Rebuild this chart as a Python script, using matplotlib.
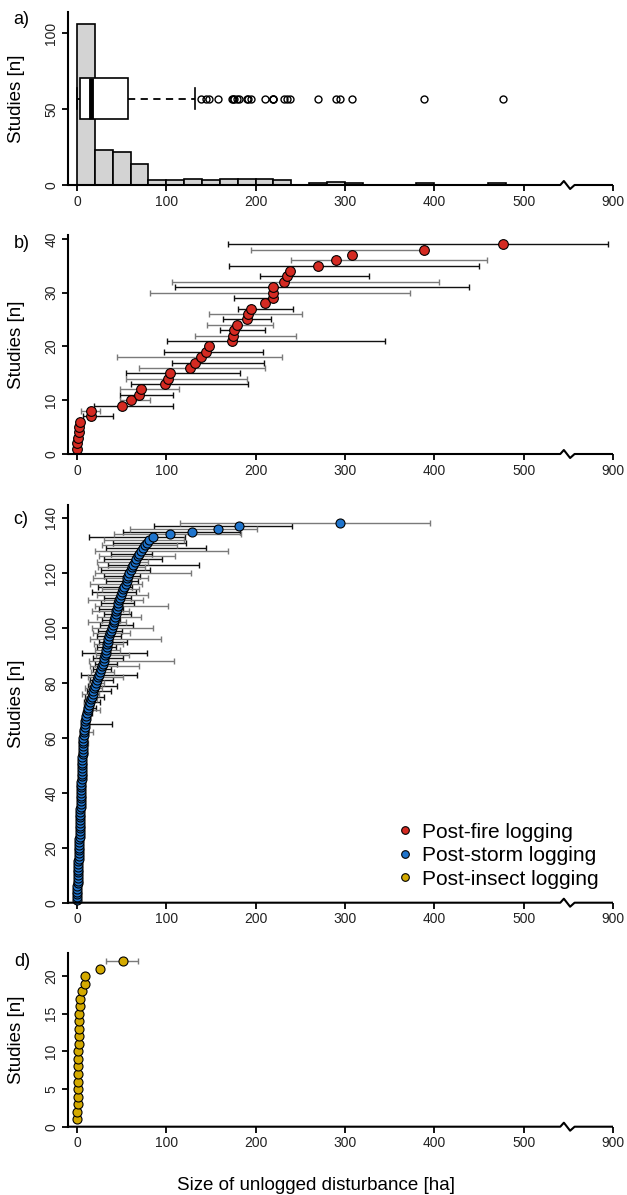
import numpy as np
import matplotlib
matplotlib.use("Agg")
import matplotlib.pyplot as plt
from matplotlib.lines import Line2D
import matplotlib.transforms as mtransforms

plt.rcParams['font.family'] = ['Liberation Sans', 'DejaVu Sans']

# ---------------- data ----------------
fire_size = [0.3, 0.5, 1.0, 2.0, 2.5, 3.0, 15.5, 15.8, 50, 61, 69, 72, 98.9, 101.5, 104,
             126, 132, 138.5, 144.4, 148, 173, 175, 175.5, 179.5, 190.6, 191, 194.6, 210,
             219, 219, 219.3, 232, 235, 238, 270, 290, 308, 389, 477]
fire_err_rank = [7, 8, 9, 10, 11, 12, 13, 14, 15, 16, 17, 18, 19, 21, 22, 23, 24, 25, 26, 27,
                 29, 30, 31, 32, 33, 35, 36, 38, 39]
fire_err_low = [6.7, 5.0, 18.7, 47.7, 47.7, 47.7, 60.0, 54.4, 54.4, 70.0, 106.7, 44.8, 98.0,
                101.0, 132.0, 160.0, 145.4, 164.0, 147.7, 180.0, 176.0, 81.5, 109.4, 106.4,
                204.5, 170.0, 240.0, 195.0, 168.7]
fire_err_high = [40.6, 26.0, 107.5, 81.4, 107.5, 113.8, 191.5, 190.8, 183.0, 211.0, 209.5, 229.6,
                 208.0, 344.6, 245.0, 210.0, 220.0, 217.0, 252.0, 242.0, 222.0, 372.8, 439.0,
                 405.0, 326.8, 449.5, 459.0, 389.0, 860.0]

storm_size = [0.1, 0.2, 0.3, 0.4, 0.5, 0.6, 0.7, 0.8, 0.9, 1.0,
              1.1, 1.2, 1.3, 1.5, 1.6, 1.8, 2.0, 2.1, 2.3, 2.5,
              2.6, 2.7, 2.8, 2.9, 3.0, 3.1, 3.2, 3.3, 3.4, 3.5,
              3.6, 3.7, 3.8, 3.9, 4.0, 4.1, 4.2, 4.3, 4.4, 4.5,
              4.7, 4.8, 5.0, 5.1, 5.2, 5.3, 5.4, 5.5, 5.6, 5.7,
              5.9, 6.0, 6.2, 6.3, 6.5, 6.6, 6.8, 6.9, 7.0, 7.2,
              7.5, 7.8, 8.1, 8.5, 9.0, 9.5, 10.0, 10.5, 11.2, 12.0,
              12.8, 13.5, 14.5, 15.5, 16.5, 17.5, 18.5, 19.5,
              20.5, 21.5, 22.5, 23.5, 25.0, 26.0, 27.0, 28.0, 29.0, 29.8, 30.5, 31.2, 32.0,
              32.6, 33.2, 33.8, 34.5, 35.2, 36.0, 37.0, 38.0, 39.2,
              40.2, 41.0, 42.0, 42.8, 43.5, 44.2, 45.0, 45.7, 46.5, 47.3, 48.0, 49.0, 50.0,
              51.5, 53.0, 54.5, 55.5, 56.5, 57.5, 58.5,
              60.5, 61.5, 63.0, 64.5, 66.0, 68.0, 70.0, 72.0, 74.0, 76.0, 78.5,
              81.0, 85.0, 104.0, 128.5, 157.6, 181.0, 294.0]
storm_err_rank = [56, 58, 60, 62, 64, 65, 67, 69, 70, 71, 72, 73, 74, 75, 76, 77, 78, 79, 80,
                  81, 82, 83, 84, 85, 86, 87, 88, 89, 90, 91, 92, 93, 94, 95, 96, 97, 98, 99,
                  100, 101, 102, 103, 104, 105, 106, 107, 108, 109, 110, 111, 112, 113, 114,
                  115, 116, 117, 118, 119, 120, 121, 122, 123, 124, 125, 126, 127, 128, 129,
                  130, 131, 132, 133, 134, 135, 136, 137, 138]
storm_err_low = [4.0, 5.0, 5.5, 5.0, 6.0, 7.0, 6.0, 7.0, 8.0, 9.0, 7.5, 8.0, 10.0, 8.5, 6.0,
                 11.0, 9.0, 12.0, 14.0, 15.0, 12.0, 5.0, 16.0, 18.0, 15.0, 20.0, 13.0, 18.0,
                 21.0, 6.0, 20.0, 23.0, 19.0, 25.0, 15.0, 22.0, 18.0, 24.0, 17.0, 26.0, 12.0,
                 28.0, 22.0, 30.0, 17.0, 25.0, 20.0, 27.0, 12.0, 30.0, 22.0, 17.0, 28.0, 24.0,
                 15.0, 32.0, 18.0, 30.0, 20.0, 27.0, 24.0, 35.0, 22.0, 30.0, 25.0, 38.0, 20.0,
                 33.0, 28.0, 40.0, 30.0, 14.0, 42.0, 52.0, 59.0, 86.0, 115.0]
storm_err_high = [10.5, 12.5, 9.5, 17.5, 12.7, 39.0, 14.0, 16.5, 26.0, 21.0, 18.0, 26.0, 22.5,
                  30.0, 25.0, 38.0, 28.0, 45.0, 30.0, 40.0, 52.0, 66.7, 42.0, 38.0, 70.0, 45.0,
                  109.0, 52.0, 58.0, 78.0, 48.0, 44.0, 52.0, 56.0, 94.0, 49.0, 59.0, 50.0, 85.5,
                  63.0, 55.0, 48.0, 72.0, 61.0, 58.0, 51.0, 101.6, 64.0, 74.0, 60.0, 80.0, 66.0,
                  70.0, 62.0, 73.0, 68.0, 80.0, 71.0, 127.6, 82.0, 76.0, 137.0, 80.0, 95.0, 110.0,
                  84.0, 169.0, 145.0, 112.0, 122.0, 120.0, 121.0, 184.0, 182.0, 202.0, 241.0,
                  395.0]

insect_size = [0.5, 0.6, 0.7, 0.8, 1.0, 1.1, 1.2, 1.3, 1.5, 1.6, 1.8, 2.0, 2.2, 2.5, 2.8, 3.0,
               3.5, 5.5, 8.5, 9.5, 25.5, 51.5]
insect_err_rank = [22]
insect_err_low = [33.0]
insect_err_high = [68.0]

x_ticks = [0, 100, 200, 300, 400, 500, 900]
x_ticklabels = ['0', '100', '200', '300', '400', '500', '900']
legend_labels = ['Post-fire logging', 'Post-storm logging', 'Post-insect logging']
panel_letters = ['a)', 'b)', 'c)', 'd)']

# ---------------- style ----------------
C_FIRE = '#d42a22'
C_STORM = '#1f74cc'
C_INSECT = '#d4aa00'
TICK_COLOR = '#222222'
FS_TICK = 10
FS_LABEL = 13.5

BREAK = 550.0
COMPRESS = 7.0


def fwd(x):
    x = np.asarray(x, dtype=float)
    return np.where(x <= BREAK, x, BREAK + (x - BREAK) / COMPRESS)


def inv(t):
    t = np.asarray(t, dtype=float)
    return np.where(t <= BREAK, t, BREAK + (t - BREAK) * COMPRESS)


W, H = 627, 1195
fig = plt.figure(figsize=(W / 100, H / 100), dpi=100)


def px_axes(left, top, right, bottom):
    return fig.add_axes([left / W, 1 - bottom / H, (right - left) / W, (bottom - top) / H])


ax_a = px_axes(68, 12, 613, 185)
ax_b = px_axes(68, 235, 613, 454)
ax_c = px_axes(68, 505, 613, 902.7)
ax_d = px_axes(68, 952.7, 613, 1126.7)
axes = [ax_a, ax_b, ax_c, ax_d]
ylims = [(0, 114), (0, 40.7), (0, 144.7), (0, 23.1)]
yticks = [[0, 50, 100], [0, 10, 20, 30, 40], list(range(0, 141, 20)), [0, 5, 10, 15, 20]]
letter_pos = [(21, 19), (22, 243), (21, 519), (22, 961)]


def style_axis(ax, ylim, yt):
    ax.set_xscale('function', functions=(fwd, inv))
    ax.set_xlim(-10, 900)
    ax.set_ylim(*ylim)
    ax.set_xticks(x_ticks)
    ax.set_xticklabels(x_ticklabels)
    ax.set_yticks(yt)
    ax.set_yticklabels([str(v) for v in yt], rotation=90, va='center')
    ax.minorticks_off()
    for s in ['top', 'right', 'bottom']:
        ax.spines[s].set_visible(False)
    ax.spines['left'].set_linewidth(1.5)
    ax.tick_params(axis='both', direction='out', length=4, width=1.3, labelsize=FS_TICK,
                   labelcolor=TICK_COLOR, pad=3)
    ax.set_ylabel('Studies [n]', fontsize=FS_LABEL)
    ax.yaxis.set_label_coords(-0.078, 0.5)
    # x axis line with break symbol
    h_px = ax.get_position().height * H
    h = 4.0 / h_px
    trans = mtransforms.blended_transform_factory(ax.transData, ax.transAxes)
    t_pts = [-10, 541, 545, 552, 557, 600]
    y_pts = [0, 0, h, -h, 0, 0]
    ax.plot(inv(t_pts), y_pts, color='black', lw=1.5, transform=trans, clip_on=False,
            solid_capstyle='butt', zorder=5)


for ax, yl, yt in zip(axes, ylims, yticks):
    style_axis(ax, yl, yt)

for (x, y), letter in zip(letter_pos, panel_letters):
    fig.text(x / W, 1 - y / H, letter, fontsize=13, ha='center', va='center')

# ---------------- panel a ----------------
all_sizes = np.array(fire_size + storm_size + insect_size)
ax_a.hist(all_sizes, bins=np.arange(0, 501, 20), color='#d3d3d3', edgecolor='black',
          linewidth=1.2, zorder=2)
ax_a.boxplot(all_sizes, orientation='horizontal', positions=[57], widths=27, whis=1.5,
             patch_artist=True, manage_ticks=False, capwidths=14,
             boxprops=dict(facecolor='white', edgecolor='black', linewidth=1.2),
             medianprops=dict(color='black', linewidth=3.5),
             whiskerprops=dict(color='black', linestyle=(0, (4, 3)), linewidth=1.3),
             capprops=dict(color='black', linewidth=1.2),
             flierprops=dict(marker='o', markerfacecolor='none', markeredgecolor='black',
                             markersize=5, markeredgewidth=1.0),
             zorder=3)


# ---------------- ranked panels ----------------
def ranked(ax, sizes, err_rank, err_low, err_high, color, ms):
    n = np.arange(1, len(sizes) + 1)
    sizes = np.asarray(sizes, dtype=float)
    er = np.asarray(err_rank)
    lo = np.asarray(err_low, dtype=float)
    hi = np.asarray(err_high, dtype=float)
    xv = sizes[er - 1]
    for parity, ecol in [(1, '#111111'), (0, '#7a7a7a')]:
        m = (er % 2) == parity
        if m.any():
            ax.errorbar(xv[m], er[m], xerr=[xv[m] - lo[m], hi[m] - xv[m]], fmt='none',
                        ecolor=ecol, elinewidth=1.0, capsize=2, capthick=1.0, zorder=2)
    ax.plot(sizes, n, 'o', color=color, markeredgecolor='black', markeredgewidth=0.8,
            markersize=ms, zorder=3, clip_on=False)


ranked(ax_b, fire_size, fire_err_rank, fire_err_low, fire_err_high, C_FIRE, 7)
ranked(ax_c, storm_size, storm_err_rank, storm_err_low, storm_err_high, C_STORM, 6.5)
ranked(ax_d, insect_size, insect_err_rank, insect_err_low, insect_err_high, C_INSECT, 6.5)

handles = [Line2D([], [], marker='o', linestyle='none', markerfacecolor=c,
                  markeredgecolor='black', markeredgewidth=0.8, markersize=5.5)
           for c in (C_FIRE, C_STORM, C_INSECT)]
ax_c.legend(handles, legend_labels, loc='lower left', bbox_to_anchor=(0.60, 0.035),
            frameon=False, fontsize=15, handlelength=1.0, handletextpad=0.3,
            labelspacing=0.22, borderpad=0, borderaxespad=0)

fig.text(316 / W, 1 - 1185 / H, 'Size of unlogged disturbance [ha]', fontsize=FS_LABEL,
         ha='center', va='center')

fig.savefig('out.png', dpi=100, facecolor='white')
